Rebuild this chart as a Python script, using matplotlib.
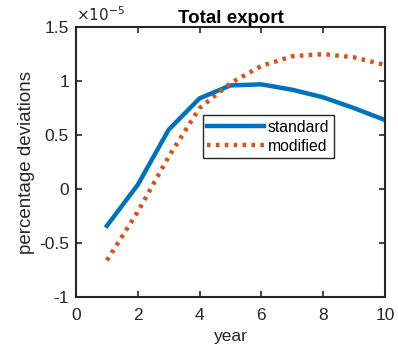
import numpy as np
import matplotlib
matplotlib.use('Agg')
import matplotlib.pyplot as plt

plt.rcParams['font.family'] = ['Liberation Sans', 'DejaVu Sans']
plt.rcParams['axes.unicode_minus'] = False

# datos (en unidades de 1e-5)
year = [1, 2, 3, 4, 5, 6, 7, 8, 9, 10]
standard = [-0.34, 0.04, 0.55, 0.84, 0.96, 0.97, 0.92, 0.85, 0.75, 0.64]
modified = [-0.66, -0.21, 0.30, 0.75, 0.98, 1.14, 1.23, 1.25, 1.22, 1.15]
xticks = [0, 2, 4, 6, 8, 10]
yticks = [-1, -0.5, 0, 0.5, 1, 1.5]
ytick_labels = ['-1', '-0.5', '0', '0.5', '1', '1.5']

fig = plt.figure(figsize=(3.98, 3.52), dpi=100)
ax = fig.add_axes([0.191, 0.156, 0.776, 0.767])

ax.plot(year, standard, color='#0072BD', lw=3.2, label='standard')
ax.plot(year, modified, color='#D95319', lw=3.2, ls=(0, (0.8, 1.2)), label='modified')

ax.set_xlim(0, 10)
ax.set_ylim(-1, 1.5)
ax.set_xticks(xticks)
ax.set_yticks(yticks)
ax.set_yticklabels(ytick_labels)
ax.tick_params(direction='in', top=True, right=True, labelsize=12.5, colors='#262626',
               length=4, width=1.2, pad=5)
ax.tick_params(axis='x', pad=8)
for s in ax.spines.values():
    s.set_linewidth(1.5)
    s.set_color('#262626')

ax.set_xlabel('year', fontsize=12.5, color='#262626', labelpad=4)
ax.set_ylabel('percentage deviations', fontsize=13.5, color='#262626', labelpad=3)
ax.set_title('Total export', fontsize=13.5, fontweight='bold', pad=3)
ax.text(0, 1.01, r'$\times 10^{-5}$', transform=ax.transAxes, fontsize=11,
        color='#262626', va='bottom', ha='left')

leg = ax.legend(loc='upper left', bbox_to_anchor=(0.41, 0.674), fontsize=11.3,
                fancybox=False, framealpha=1, edgecolor='#262626',
                handlelength=3.6, borderpad=0.3, labelspacing=0.25, handletextpad=0.25,
                borderaxespad=0)
leg.get_frame().set_linewidth(1.0)

fig.savefig('out.png', dpi=100)
